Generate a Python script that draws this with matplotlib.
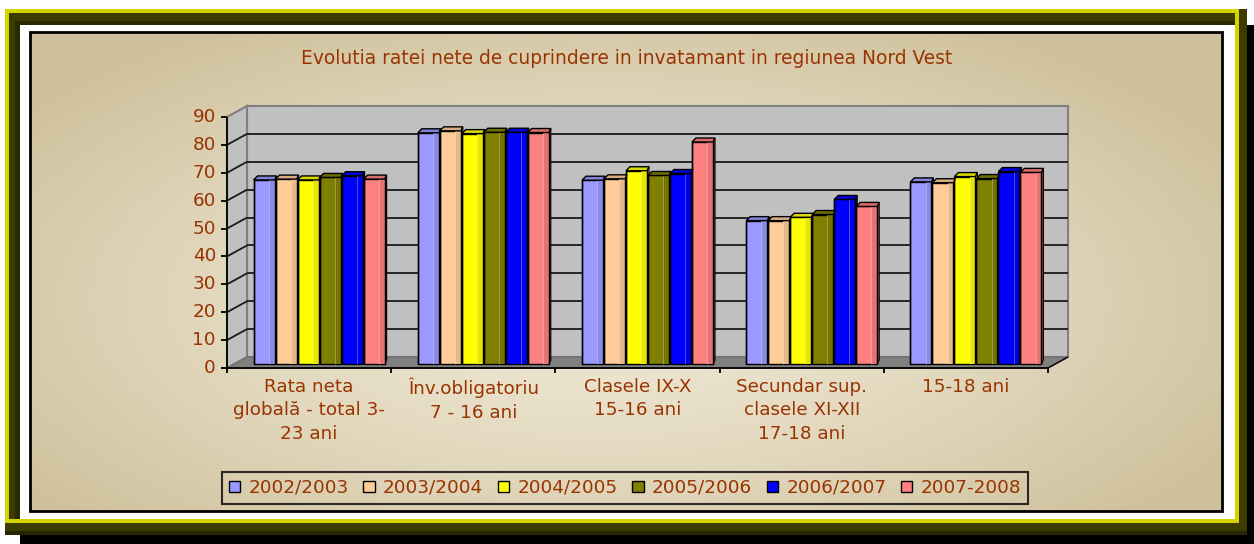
import numpy as np
import matplotlib
matplotlib.use("Agg")
import matplotlib.pyplot as plt
from matplotlib.patches import Rectangle, Polygon
from matplotlib.colors import to_rgb

# ---------------- data ----------------
categories = ["Rata neta\nglobală - total 3-\n23 ani",
              "Înv.obligatoriu\n7 - 16 ani",
              "Clasele IX-X\n15-16 ani",
              "Secundar sup.\nclasele XI-XII\n17-18 ani",
              "15-18 ani"]
series_labels = ["2002/2003", "2003/2004", "2004/2005", "2005/2006", "2006/2007", "2007-2008"]
s2002 = [66.0, 82.9, 65.9, 51.4, 65.3]
s2003 = [66.3, 83.6, 66.4, 51.4, 65.0]
s2004 = [66.0, 82.6, 69.3, 52.6, 67.2]
s2005 = [66.9, 83.1, 67.6, 53.6, 66.5]
s2006 = [67.5, 83.1, 68.3, 59.0, 69.0]
s2007 = [66.3, 83.0, 79.6, 56.5, 68.7]
series_values = [s2002, s2003, s2004, s2005, s2006, s2007]
series_colors = ["#9999FF", "#FFCC99", "#FFFF00", "#808000", "#0000FF", "#FF8080"]
yticks = [0, 10, 20, 30, 40, 50, 60, 70, 80, 90]
title = "Evolutia ratei nete de cuprindere in invatamant in regiunea Nord Vest"

TXT = "#993300"
FS = 13.2
W, H = 1254, 544
fig = plt.figure(figsize=(W / 100, H / 100), dpi=100)
fig.patch.set_facecolor("white")

# ---------------- background / frame (pixel axes) ----------------
bg = fig.add_axes([0, 0, 1, 1])
bg.set_xlim(0, W)
bg.set_ylim(H, 0)
bg.axis("off")

def rect(x0, y0, x1, y1, fc, ec="none", lw=0, z=0):
    bg.add_patch(Rectangle((x0, y0), x1 - x0, y1 - y0, facecolor=fc, edgecolor=ec, linewidth=lw, zorder=z))

rect(20, 25, 1254, 544, "black", z=0)          # shadow
rect(5, 9, 1247, 535, "#262600", z=1)
rect(5, 9, 1247, 531, "#3C3C00", z=1.1)
rect(5, 9, 1239, 523, "#D4D400", z=1.2)
rect(9, 13, 1235, 519, "#3C3C00", z=1.3)
rect(15, 21, 1235, 519, "#2A2A00", z=1.4)
rect(20, 25, 1235, 519, "white", z=1.5)

# gradient chart area
cx0, cy0, cx1, cy1 = 30, 32, 1222, 511
gx = np.linspace(cx0, cx1, 400)
gy = np.linspace(cy0, cy1, 200)
XX, YY = np.meshgrid(gx, gy)
d = np.sqrt(((XX - 600) / 720) ** 2 + ((YY - 300) / 320) ** 2)
d = np.clip(d, 0, 1) ** 1.4
light = np.array([239, 232, 213]) / 255
dark = np.array([207, 193, 156]) / 255
img = light[None, None, :] + (dark - light)[None, None, :] * d[..., None]
bg.imshow(img, extent=(cx0, cx1, cy1, cy0), aspect="auto", zorder=2, interpolation="bilinear")
bg.add_patch(Rectangle((cx0, cy0), cx1 - cx0, cy1 - cy0, facecolor="none", edgecolor="black", linewidth=2, zorder=3))

bg.text(627, 58, title, ha="center", va="center", color=TXT, fontsize=13.4, zorder=4)

# ---------------- bar axes ----------------
ax = fig.add_axes([237 / W, 180 / H, 821 / W, 251 / H])
ax.set_xlim(-0.5, len(categories) - 0.5)
ax.set_ylim(0, 90)
ax.axis("off")
ax.patch.set_alpha(0)

FRONT = np.array([-10.0, -4.0])
BACK = np.array([10.0, 7.0])
T = ax.transData
Ti = ax.transData.inverted()

def P(x, y, off=(0, 0)):
    return T.transform((x, y)) + np.asarray(off)

def poly(pts, **kw):
    ax.add_patch(Polygon(Ti.transform(np.array(pts)), closed=True, clip_on=False, **kw))

def line(p, q, **kw):
    a = Ti.transform(np.array([p, q]))
    ax.plot(a[:, 0], a[:, 1], clip_on=False, solid_capstyle="butt", **kw)

xl, xr = -0.5, len(categories) - 0.5
ytop = yticks[-1]
# back wall
poly([P(xl, 0, BACK), P(xr, 0, BACK), P(xr, ytop, BACK), P(xl, ytop, BACK)],
     facecolor="#C0C0C0", edgecolor="#808080", linewidth=1.5, zorder=1)
# left wall
poly([P(xl, 0, FRONT), P(xl, 0, BACK), P(xl, ytop, BACK), P(xl, ytop, FRONT)],
     facecolor="#C0C0C0", edgecolor="#808080", linewidth=1.5, zorder=1)
# floor
poly([P(xl, 0, FRONT), P(xr, 0, FRONT), P(xr, 0, BACK), P(xl, 0, BACK)],
     facecolor="#808080", edgecolor="#707070", linewidth=1, zorder=1.1)
# grid lines
for v in yticks[1:-1]:
    line(P(xl, v, BACK), P(xr, v, BACK), color="#1a1a1a", linewidth=1.3, zorder=1.2)
    line(P(xl, v, FRONT), P(xl, v, BACK), color="#1a1a1a", linewidth=1.3, zorder=1.2)
# front axes lines & ticks
line(P(xl, 0, FRONT), P(xl, ytop, FRONT), color="black", linewidth=1.3, zorder=5)
line(P(xl, 0, FRONT), P(xr, 0, FRONT), color="black", linewidth=1.3, zorder=5)
line(P(xr, 0, FRONT), P(xr, 0, BACK), color="black", linewidth=1.0, zorder=5)
for v in yticks:
    line(P(xl, v, FRONT), P(xl, v, FRONT + np.array([-6, 0])), color="black", linewidth=1.3, zorder=5)
    ax.text(*Ti.transform(P(xl, v, FRONT + np.array([-11, 0]))), str(v), ha="right", va="center",
            color=TXT, fontsize=FS, clip_on=False)
for i in range(len(categories) + 1):
    xb = i - 0.5
    line(P(xb, 0, FRONT), P(xb, 0, FRONT + np.array([0, -5])), color="black", linewidth=1.3, zorder=5)
for i, lab in enumerate(categories):
    ax.text(*Ti.transform(P(i, 0, FRONT + np.array([0, -10]))), lab, ha="center", va="top",
            color=TXT, fontsize=FS, linespacing=1.38, clip_on=False, multialignment="center")

# bars
n = len(series_values)
pitch = 0.134
bw = 0.128
x = np.arange(len(categories))
handles = []
def shade(c, f):
    r = np.array(to_rgb(c))
    return tuple(np.clip(r * f, 0, 1))
for k, (vals, col) in enumerate(zip(series_values, series_colors)):
    xs = x + (k - (n - 1) / 2) * pitch
    bars = ax.bar(xs, vals, width=bw, color=col, edgecolor="black", linewidth=1.0, zorder=3, clip_on=False)
    handles.append(bars)
    for b in bars:
        x0 = b.get_x(); x1 = x0 + b.get_width(); v = b.get_height()
        # darker right strip
        xs0 = x0 + 0.72 * b.get_width()
        poly([P(xs0, 0), P(x1, 0), P(x1, v), P(xs0, v)], facecolor=shade(col, 0.9), edgecolor="none", zorder=3.1)
        line(P(xs0, 0), P(xs0, v), color="white", linewidth=0.6, alpha=0.35, zorder=3.15)
        line(P(x0, 0), P(x0, v), color="black", linewidth=1.0, zorder=3.2)
        line(P(x1, 0), P(x1, v), color="black", linewidth=1.0, zorder=3.2)
        # side face
        poly([P(x1, 0), P(x1, v), P(x1, v, (2, 4)), P(x1, 0, (2, 4))],
             facecolor=shade(col, 0.75), edgecolor="black", linewidth=0.8, zorder=2.9)
        # cap
        poly([P(x0, v), P(x0, v, (4, 4)), P(x1, v, (2, 4)), P(x1, v)],
             facecolor=shade(col, 0.85), edgecolor="black", linewidth=1.0, zorder=3.3)

leg = ax.legend(handles, series_labels, ncol=6, loc="center",
                bbox_to_anchor=(625 / W, 1 - 488 / H), bbox_transform=fig.transFigure,
                frameon=True, fancybox=False, edgecolor="black", facecolor="none",
                fontsize=FS, labelcolor=TXT, handlelength=0.62, handleheight=0.52,
                handletextpad=0.45, columnspacing=0.8, borderpad=0.38, borderaxespad=0)
leg.get_frame().set_linewidth(1.5)

fig.savefig("out.png", dpi=100)
